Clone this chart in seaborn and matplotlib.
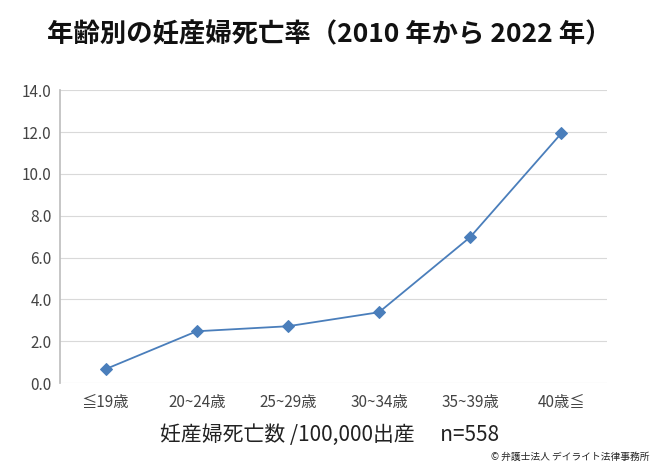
import matplotlib
matplotlib.use("Agg")
import matplotlib.pyplot as plt
import seaborn as sns
import pandas as pd

categories = ["≦19歳", "20~24歳", "25~29歳", "30~34歳", "35~39歳", "40歳≦"]
values = [0.67, 2.48, 2.72, 3.39, 6.98, 11.94]
yticks = [0, 2, 4, 6, 8, 10, 12, 14]

sns.set_theme(style="white")
plt.rcParams['font.family'] = ['Noto Sans CJK JP', 'DejaVu Sans']

df = pd.DataFrame({"cat": categories, "val": values})
fig = plt.figure(figsize=(6.59, 4.65), dpi=100)
ax = fig.add_axes([0.091, 0.176, 0.83, 0.63])
sns.lineplot(data=df, x="cat", y="val", ax=ax, color="#4A7EBB", marker="D",
             markersize=6, markeredgecolor="#4A7EBB", linewidth=1.3, sort=False)
ax.set_ylim(0, 14)
ax.set_xlim(-0.5, 5.5)
ax.set_yticks(yticks)
ax.set_yticklabels([f"{v:.1f}" for v in yticks], fontsize=11, color="#444444")
ax.tick_params(axis='x', labelsize=11, colors="#444444", length=0, pad=8)
ax.tick_params(axis='y', length=0, pad=6)
ax.grid(axis='y', color="#D9D9D9", linewidth=0.8)
for s in ["top", "right", "bottom"]:
    ax.spines[s].set_visible(False)
ax.spines["left"].set_color("#BFBFBF")
ax.set_xlabel("")
ax.set_ylabel("")
fig.text(0.5, 0.925, "年齢別の妊産婦死亡率（2010 年から 2022 年）", ha="center", va="center",
         fontsize=19, fontweight="bold", color="#111111")
fig.text(0.5, 0.065, "妊産婦死亡数 /100,000出産　 n=558", ha="center", va="center",
         fontsize=15, color="#222222")
fig.text(0.985, 0.018, "© 弁護士法人 デイライト法律事務所", ha="right", va="center",
         fontsize=7, color="#222222")
fig.savefig("out.png", dpi=100)
